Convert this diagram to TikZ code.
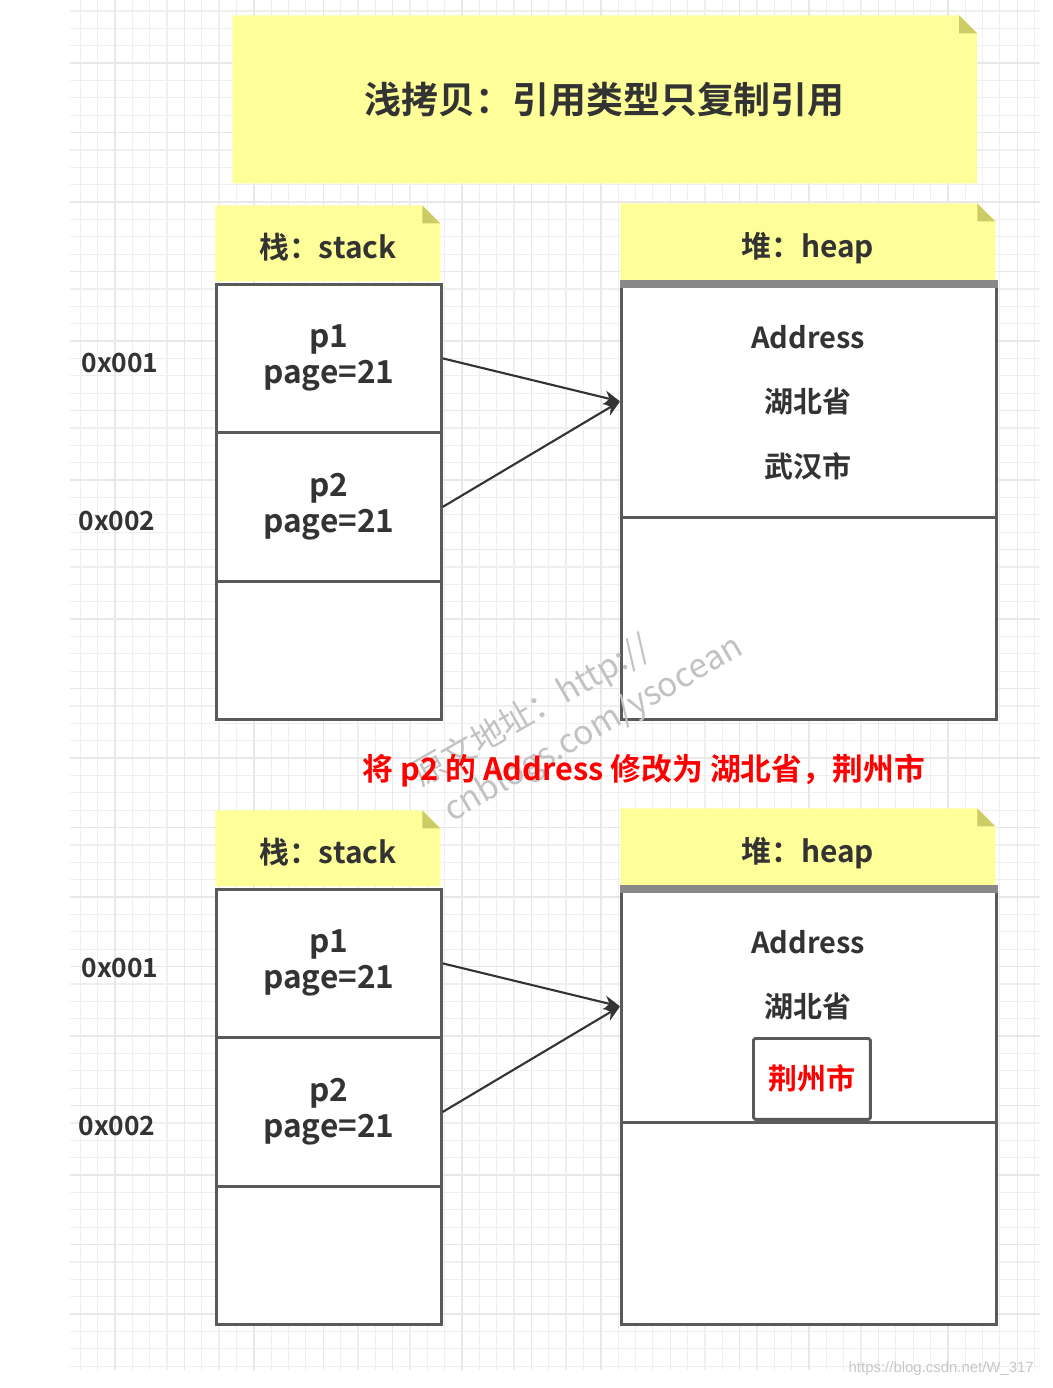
\documentclass[tikz,border=0pt]{standalone}
\usepackage{fontspec}
\setmainfont{Noto Sans CJK SC}[BoldFont={Noto Sans CJK SC Bold}]
\newfontfamily\wmfont{Liberation Sans}
\usetikzlibrary{arrows.meta}
\definecolor{notey}{HTML}{FFFF99}
\definecolor{foldy}{HTML}{CCCC66}
\definecolor{linec}{HTML}{5A5A5A}
\definecolor{txtc}{HTML}{333333}
\definecolor{gridn}{HTML}{EFEFEF}
\definecolor{gridm}{HTML}{E8E8E8}
\definecolor{bandc}{HTML}{888888}
\definecolor{redc}{HTML}{FF0000}
\tikzset{
  note/.style={inner sep=0pt,anchor=north west,text=txtc,
    path picture={
      \fill[notey] (path picture bounding box.south west) -- (path picture bounding box.north west)
        -- ([xshift=-0.36cm]path picture bounding box.north east)
        -- ([yshift=-0.36cm]path picture bounding box.north east)
        -- (path picture bounding box.south east) -- cycle;
      \fill[foldy] ([xshift=-0.36cm]path picture bounding box.north east)
        -- ([xshift=-0.36cm,yshift=-0.36cm]path picture bounding box.north east)
        -- ([yshift=-0.36cm]path picture bounding box.north east) -- cycle;
    }},
  sthd/.style={note,minimum width=4.5cm,minimum height=1.52cm,text height=17pt,text depth=0pt,
    font=\fontsize{17}{20}\selectfont\bfseries},
  hphd/.style={note,minimum width=7.5cm,minimum height=1.56cm,text height=17pt,text depth=0pt,
    font=\fontsize{17}{20}\selectfont\bfseries},
  cell/.style={draw=linec,line width=1.6pt,fill=white,inner sep=0pt,anchor=north west,
    minimum width=4.5cm,align=center,text=txtc,font=\fontsize{18}{20.5}\selectfont\bfseries},
  hcell/.style={cell,minimum width=7.5cm},
  band/.style={draw=bandc,line width=5pt},
  htxt/.style={text=txtc,font=\fontsize{16.5}{19}\selectfont\bfseries},
  addr/.style={text=txtc,font=\fontsize{15}{17}\selectfont\bfseries},
  ptr/.style={-{Stealth[length=9pt,width=8pt]},draw=txtc,line width=1.2pt},
  wm/.style={text=black!24,rotate=30,font=\fontsize{19}{21}\selectfont},
}

\begin{document}
\begin{tikzpicture}[x=0.02cm,y=-0.02cm]
  \useasboundingbox (0,0) rectangle (1052,1388);
  % grid
  \foreach \i in {0,...,55}
    \draw[gridn,line width=0.7pt] ({80.3+17.35*\i},0) -- ({80.3+17.35*\i},1370);
  \foreach \i in {0,...,78}
    \draw[gridn,line width=0.7pt] (70,{10.9+17.375*\i}) -- (1040,{10.9+17.375*\i});
  \foreach \i in {2,6,...,54}
    \draw[gridm,line width=0.8pt] ({80.3+17.35*\i},0) -- ({80.3+17.35*\i},1370);
  \foreach \i in {3,7,...,75}
    \draw[gridm,line width=0.8pt] (70,{10.9+17.375*\i}) -- (1040,{10.9+17.375*\i});

  \node[note,minimum width=14.9cm,minimum height=3.36cm,font=\fontsize{21}{24}\selectfont\bfseries]
    (title) at (232,15) {浅拷贝：引用类型只复制引用};

  % before
  \node[sthd] (sh1) at (215,205) {栈：stack};
  \node[hphd] (hh1) at (620,203) {堆：heap};
  \node[cell,minimum height=2.96cm] (s1a) at (215,283) {p1\\page=21};
  \node[cell,minimum height=2.98cm] (s1b) at (215,431) {p2\\page=21};
  \node[cell,minimum height=2.76cm] (s1c) at (215,580) {};
  \node[hcell,minimum height=4.64cm] (h1a) at (620,284) {};
  \node[hcell,minimum height=4.04cm] (h1b) at (620,516) {};
  \draw[band] (h1a.north west) -- (h1a.north east);
  \node[htxt] (h1t) at (808,337) {Address};
  \node[htxt] (h1p) at (808,402) {湖北省};
  \node[htxt] (h1c) at (808,466) {武汉市};
  \node[addr] (ad11) at (120,363) {0x001};
  \node[addr] (ad12) at (117,521) {0x002};
  \draw[ptr] (s1a.east) -- (h1a.west);
  \draw[ptr] (s1b.east) -- (h1a.west);

  \node[wm] (wm1) at (532,712) {原文地址：http://};
  \node[wm] (wm2) at (594,730) {cnblogs.com/ysocean};

  \node[text=redc,font=\fontsize{17.5}{20}\selectfont\bfseries] (chg) at (644,771)
    {将 p2 的 Address 修改为 湖北省，荆州市};

  % after
  \node[sthd] (sh2) at (215,810) {栈：stack};
  \node[hphd] (hh2) at (620,808) {堆：heap};
  \node[cell,minimum height=2.96cm] (s2a) at (215,888) {p1\\page=21};
  \node[cell,minimum height=2.98cm] (s2b) at (215,1036) {p2\\page=21};
  \node[cell,minimum height=2.76cm] (s2c) at (215,1185) {};
  \node[hcell,minimum height=4.64cm] (h2a) at (620,889) {};
  \node[hcell,minimum height=4.04cm] (h2b) at (620,1121) {};
  \draw[band] (h2a.north west) -- (h2a.north east);
  \node[htxt] (h2t) at (808,942) {Address};
  \node[htxt] (h2p) at (808,1007) {湖北省};
  \node[cell,minimum width=2.34cm,minimum height=1.62cm,rounded corners=1pt,text=redc,
    font=\fontsize{16.5}{19}\selectfont\bfseries] (h2c) at (752,1037) {荆州市};
  \node[addr] (ad21) at (120,968) {0x001};
  \node[addr] (ad22) at (117,1126) {0x002};
  \draw[ptr] (s2a.east) -- (h2a.west);
  \draw[ptr] (s2b.east) -- (h2a.west);

  \node[anchor=east,text=black!22,font=\wmfont\fontsize{8.5}{10}\selectfont] (csdn) at (1040,1369)
    {https://blog.csdn.net/W\_317};
\end{tikzpicture}
\end{document}
